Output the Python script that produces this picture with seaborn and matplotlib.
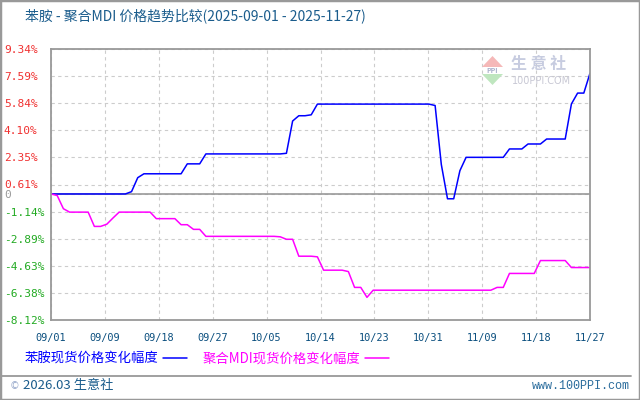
import pandas as pd
import matplotlib
matplotlib.use("Agg")
import matplotlib.pyplot as plt
import matplotlib.dates as mdates
from matplotlib.patches import Polygon, Rectangle
from matplotlib.lines import Line2D
import seaborn as sns
import numpy as np

sns.set_theme(style="white")
plt.rcParams['font.family'] = ['Noto Sans CJK SC', 'DejaVu Sans']

# Data (daily change in %, 2025-09-01 .. 2025-11-27)
START_DATE = "2025-09-01"
END_DATE = "2025-11-27"

ANILINE = [
    0, 0, 0, 0, 0, 0, 0, 0, 0, 0,
    0, 0, 0, 0.15, 1.05, 1.30, 1.30, 1.30, 1.30, 1.30,
    1.30, 1.30, 1.94, 1.94, 1.94, 2.58, 2.58, 2.58, 2.58, 2.58,
    2.58, 2.58, 2.58, 2.58, 2.58, 2.58, 2.58, 2.58, 2.62, 4.70,
    5.04, 5.04, 5.10, 5.79, 5.79, 5.79, 5.79, 5.79, 5.79, 5.79,
    5.79, 5.79, 5.79, 5.79, 5.79, 5.79, 5.79, 5.79, 5.79, 5.79,
    5.79, 5.79, 5.70, 1.90, -0.31, -0.31, 1.50, 2.36, 2.36, 2.36,
    2.36, 2.36, 2.36, 2.36, 2.90, 2.90, 2.90, 3.22, 3.22, 3.22,
    3.54, 3.54, 3.54, 3.54, 5.80, 6.50, 6.50, 7.78,
]

PMDI = [
    0, -0.10, -0.95, -1.17, -1.17, -1.17, -1.17, -2.09, -2.09, -1.95,
    -1.55, -1.17, -1.17, -1.17, -1.17, -1.17, -1.17, -1.59, -1.59, -1.59,
    -1.59, -1.98, -1.98, -2.28, -2.28, -2.73, -2.73, -2.73, -2.73, -2.73,
    -2.73, -2.73, -2.73, -2.73, -2.73, -2.73, -2.73, -2.76, -2.92, -2.92,
    -4.01, -4.01, -4.01, -4.05, -4.91, -4.91, -4.91, -4.91, -5.00, -6.02,
    -6.02, -6.66, -6.20, -6.20, -6.20, -6.20, -6.20, -6.20, -6.20, -6.20,
    -6.20, -6.20, -6.20, -6.20, -6.20, -6.20, -6.20, -6.20, -6.20, -6.20,
    -6.20, -6.20, -6.02, -6.02, -5.12, -5.12, -5.12, -5.12, -5.12, -4.29,
    -4.29, -4.29, -4.29, -4.29, -4.74, -4.74, -4.74, -4.74,
]

SERIES_NAMES = ["苯胺现货价格变化幅度", "聚合MDI现货价格变化幅度"]
SERIES_COLORS = ["#0000ff", "#ff00ff"]

Y_TICKS = [9.34, 7.59, 5.84, 4.10, 2.35, 0.61, 0, -1.14, -2.89, -4.63, -6.38, -8.12]
X_TICK_LABELS = ["09/01", "09/09", "09/18", "09/27", "10/05", "10/14",
                 "10/23", "10/31", "11/09", "11/18", "11/27"]

TITLE = "苯胺 - 聚合MDI 价格趋势比较(2025-09-01 - 2025-11-27)"

W, H = 640, 400


def px(x, y):
    # pixel position -> figure fraction
    return (x / W, 1 - y / H)


dates = pd.date_range(START_DATE, END_DATE, freq="D")
df = pd.DataFrame({"date": dates, SERIES_NAMES[0]: ANILINE, SERIES_NAMES[1]: PMDI})

fig = plt.figure(figsize=(6.4, 4.0), dpi=100)
fig.patch.set_facecolor("white")
ax = fig.add_axes([51 / W, 1 - 320 / H, 539 / W, 271 / H])

for name, color in zip(SERIES_NAMES, SERIES_COLORS):
    sns.lineplot(data=df, x="date", y=name, color=color, lw=1.1, ax=ax, label=name)

d0 = mdates.date2num(dates[0])
d1 = mdates.date2num(dates[-1])
ax.set_xlim(d0, d1)
ax.set_ylim(Y_TICKS[-1], Y_TICKS[0])
ax.set_xticks(np.linspace(d0, d1, len(X_TICK_LABELS)))
ax.set_xticklabels(X_TICK_LABELS)
ax.set_yticks(Y_TICKS)
ax.set_yticklabels([("0" if v == 0 else f"{v:.2f}%") for v in Y_TICKS])
ax.set_xlabel("")
ax.set_ylabel("")

ax.grid(True, ls=(0, (3, 3)), color="#cccccc", lw=0.8)
ax.axhline(0, color="#999999", lw=1.2, zorder=1.5)
for s in ax.spines.values():
    s.set_color("#999999")
    s.set_linewidth(1.3)

ax.tick_params(axis="y", length=0, pad=34)
ax.tick_params(axis="x", length=0, pad=9)
for lbl, v in zip(ax.get_yticklabels(), Y_TICKS):
    lbl.set_ha("left")
    lbl.set_family("DejaVu Sans Mono")
    lbl.set_fontsize(8)
    lbl.set_color("#999999" if v == 0 else ("#f03030" if v > 0 else "#22aa22"))
for lbl in ax.get_xticklabels():
    lbl.set_family("DejaVu Sans Mono")
    lbl.set_fontsize(7.4)
    lbl.set_color("#0b4f7f")

# legend: text first, line after
handles, labels = ax.get_legend_handles_labels()
leg = ax.legend(handles, labels, ncol=2, markerfirst=False, frameon=False,
                loc="center left", bbox_to_anchor=px(19, 359),
                bbox_transform=fig.transFigure, fontsize=9.6,
                handlelength=1.8, handletextpad=0.4, columnspacing=1.1,
                labelcolor="linecolor", borderaxespad=0)

fig.text(*px(25, 16), TITLE, fontsize=10, color="#1a5c8c", va="center", ha="left")

# watermark
fig.add_artist(Polygon([px(482, 67), px(503, 67), px(492.5, 56)], closed=True,
                       transform=fig.transFigure, facecolor="#f5b8b8", edgecolor="none"))
fig.add_artist(Polygon([px(482, 74), px(503, 74), px(492.5, 85)], closed=True,
                       transform=fig.transFigure, facecolor="#bfe6bf", edgecolor="none"))
fig.text(*px(492.5, 70.5), "PPI", fontsize=5, color="#aab0cc", ha="center", va="center",
         fontweight="bold")
fig.text(*px(511, 64), "生 意 社", fontsize=11.5, color="#c7cce0", ha="left", va="center",
         fontweight="bold")
fig.text(*px(512, 81), "100PPI.COM", fontsize=7, color="#c8c8d4", ha="left", va="center",
         family="DejaVu Sans")

# footer
fig.add_artist(Line2D([0, 631 / W], [1 - 376 / H] * 2, color="#999999", lw=1.3,
                      transform=fig.transFigure))
fig.text(*px(10, 386), "©", fontsize=7, color="#99aacc", ha="left", va="center",
         family="DejaVu Sans")
fig.text(*px(23, 386), "2026.03 生意社", fontsize=9.5, color="#1a5c8c", ha="left", va="center")
fig.text(*px(630, 386), "www.100PPI.com", fontsize=8.5, color="#2a6c9c", ha="right",
         va="center", family="Liberation Mono")

fig.add_artist(Rectangle((0, 0), 1, 1, transform=fig.transFigure, fill=False,
                         edgecolor="#999999", lw=2.5))

fig.savefig("out.png", dpi=100)
